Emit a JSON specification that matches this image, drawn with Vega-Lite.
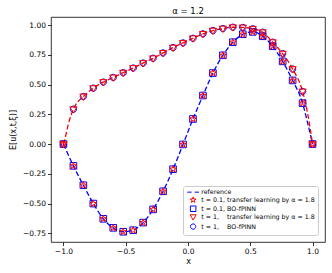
{
  "$schema": "https://vega.github.io/schema/vega-lite/v6.json",
  "width": 274,
  "height": 225,
  "autosize": {"type": "none"},
  "padding": {"left": 51, "top": 17, "right": 7, "bottom": 31},
  "title": {"text": "α = 1.2", "fontSize": 8.5, "font": "DejaVu Sans", "fontWeight": "normal", "offset": 2, "color": "black"},
  "config": {
    "view": {"stroke": "black", "strokeWidth": 0.8},
    "axis": {
      "domain": false, "grid": false, "tickColor": "black", "tickSize": 3.5, "tickWidth": 0.8,
      "labelColor": "black", "labelFont": "DejaVu Sans", "labelFontSize": 7.5, "labelPadding": 2,
      "titleColor": "black", "titleFont": "DejaVu Sans", "titleFontSize": 8, "titleFontWeight": "normal"
    },
    "legend": {
      "orient": "none", "legendX": 132, "legendY": 169,
      "strokeColor": "#cccccc", "fillColor": "white", "padding": 3, "cornerRadius": 2,
      "labelFont": "DejaVu Sans", "labelFontSize": 6.3, "labelColor": "black",
      "symbolSize": 25, "rowPadding": -1.2, "symbolStrokeWidth": 1, "symbolOffset": 4, "labelOffset": 5
    }
  },
  "encoding": {
    "x": {"field": "x", "type": "quantitative", "scale": {"domain": [-1.1, 1.1], "nice": false, "zero": false}, "axis": {"values": [-1, -0.5, 0, 0.5, 1], "format": ".1f", "title": "x", "titlePadding": 2}},
    "y": {"field": "y", "type": "quantitative", "scale": {"domain": [-0.823, 1.068], "nice": false, "zero": false}, "axis": {"values": [-0.75, -0.5, -0.25, 0, 0.25, 0.5, 0.75, 1], "format": ".2f", "title": "E[u(x,t,ξ)]", "titlePadding": 5, "labelOverlap": false}}
  },
  "layer": [
    {
      "data": {"values": [
        {"x": -1.0, "y": 0, "c": "u"}, {"x": -0.98, "y": 0.08, "c": "u"}, {"x": -0.96, "y": 0.17, "c": "u"},
        {"x": -0.92, "y": 0.293, "c": "u"}, {"x": -0.84, "y": 0.40, "c": "u"}, {"x": -0.76, "y": 0.470, "c": "u"},
        {"x": -0.68, "y": 0.521, "c": "u"}, {"x": -0.6, "y": 0.56, "c": "u"}, {"x": -0.52, "y": 0.60, "c": "u"},
        {"x": -0.44, "y": 0.639, "c": "u"}, {"x": -0.36, "y": 0.681, "c": "u"}, {"x": -0.28, "y": 0.721, "c": "u"},
        {"x": -0.2, "y": 0.766, "c": "u"}, {"x": -0.12, "y": 0.811, "c": "u"}, {"x": -0.04, "y": 0.850, "c": "u"},
        {"x": 0.04, "y": 0.889, "c": "u"}, {"x": 0.12, "y": 0.926, "c": "u"}, {"x": 0.2, "y": 0.954, "c": "u"},
        {"x": 0.28, "y": 0.971, "c": "u"}, {"x": 0.36, "y": 0.982, "c": "u"}, {"x": 0.44, "y": 0.98, "c": "u"},
        {"x": 0.52, "y": 0.969, "c": "u"}, {"x": 0.6, "y": 0.94, "c": "u"}, {"x": 0.68, "y": 0.856, "c": "u"},
        {"x": 0.76, "y": 0.76, "c": "u"}, {"x": 0.84, "y": 0.631, "c": "u"}, {"x": 0.92, "y": 0.442, "c": "u"},
        {"x": 0.96, "y": 0.26, "c": "u"}, {"x": 1.0, "y": 0, "c": "u"},
        {"x": -1.0, "y": 0, "c": "l"}, {"x": -0.92, "y": -0.183, "c": "l"}, {"x": -0.84, "y": -0.346, "c": "l"},
        {"x": -0.76, "y": -0.50, "c": "l"}, {"x": -0.68, "y": -0.628, "c": "l"}, {"x": -0.6, "y": -0.704, "c": "l"},
        {"x": -0.52, "y": -0.737, "c": "l"}, {"x": -0.44, "y": -0.724, "c": "l"}, {"x": -0.36, "y": -0.66, "c": "l"},
        {"x": -0.28, "y": -0.549, "c": "l"}, {"x": -0.2, "y": -0.397, "c": "l"}, {"x": -0.12, "y": -0.211, "c": "l"},
        {"x": -0.04, "y": -0.003, "c": "l"}, {"x": 0.04, "y": 0.211, "c": "l"}, {"x": 0.12, "y": 0.408, "c": "l"},
        {"x": 0.2, "y": 0.597, "c": "l"}, {"x": 0.28, "y": 0.746, "c": "l"}, {"x": 0.36, "y": 0.856, "c": "l"},
        {"x": 0.44, "y": 0.923, "c": "l"}, {"x": 0.52, "y": 0.943, "c": "l"}, {"x": 0.6, "y": 0.906, "c": "l"},
        {"x": 0.68, "y": 0.822, "c": "l"}, {"x": 0.76, "y": 0.695, "c": "l"}, {"x": 0.84, "y": 0.535, "c": "l"},
        {"x": 0.92, "y": 0.344, "c": "l"}, {"x": 0.96, "y": 0.18, "c": "l"}, {"x": 1.0, "y": 0, "c": "l"}
      ]},
      "layer": [
        {
          "transform": [{"filter": "datum.c === 'l'"}],
          "mark": {"type": "line", "color": "#0000ff", "strokeDash": [5, 2.5], "strokeWidth": 1.3, "interpolate": "monotone"}
        },
        {
          "transform": [{"filter": "datum.c === 'u'"}],
          "mark": {"type": "line", "color": "#ff0000", "strokeDash": [5, 2.5], "strokeWidth": 1.3, "interpolate": "monotone"}
        }
      ]
    },
    {
      "data": {"values": [
        {"x": -1.0, "a": 0, "b": 0, "c": 0, "d": 0},
        {"x": -0.92, "a": -0.183, "b": -0.183, "c": 0.293, "d": 0.293},
        {"x": -0.84, "a": -0.346, "b": -0.346, "c": 0.40, "d": 0.40},
        {"x": -0.76, "a": -0.50, "b": -0.50, "c": 0.470, "d": 0.470},
        {"x": -0.68, "a": -0.628, "b": -0.628, "c": 0.521, "d": 0.521},
        {"x": -0.6, "a": -0.704, "b": -0.704, "c": 0.56, "d": 0.56},
        {"x": -0.52, "a": -0.737, "b": -0.737, "c": 0.60, "d": 0.60},
        {"x": -0.44, "a": -0.724, "b": -0.724, "c": 0.639, "d": 0.639},
        {"x": -0.36, "a": -0.66, "b": -0.66, "c": 0.681, "d": 0.681},
        {"x": -0.28, "a": -0.549, "b": -0.549, "c": 0.721, "d": 0.721},
        {"x": -0.2, "a": -0.397, "b": -0.397, "c": 0.766, "d": 0.766},
        {"x": -0.12, "a": -0.211, "b": -0.211, "c": 0.811, "d": 0.811},
        {"x": -0.04, "a": -0.003, "b": -0.003, "c": 0.850, "d": 0.850},
        {"x": 0.04, "a": 0.211, "b": 0.211, "c": 0.889, "d": 0.889},
        {"x": 0.12, "a": 0.408, "b": 0.408, "c": 0.926, "d": 0.926},
        {"x": 0.2, "a": 0.597, "b": 0.597, "c": 0.954, "d": 0.954},
        {"x": 0.28, "a": 0.746, "b": 0.746, "c": 0.971, "d": 0.971},
        {"x": 0.36, "a": 0.856, "b": 0.856, "c": 0.982, "d": 0.982},
        {"x": 0.44, "a": 0.923, "b": 0.923, "c": 0.98, "d": 0.98},
        {"x": 0.52, "a": 0.943, "b": 0.943, "c": 0.969, "d": 0.969},
        {"x": 0.6, "a": 0.906, "b": 0.906, "c": 0.94, "d": 0.94},
        {"x": 0.68, "a": 0.822, "b": 0.822, "c": 0.856, "d": 0.856},
        {"x": 0.76, "a": 0.695, "b": 0.695, "c": 0.76, "d": 0.76},
        {"x": 0.84, "a": 0.535, "b": 0.535, "c": 0.631, "d": 0.631},
        {"x": 0.92, "a": 0.344, "b": 0.344, "c": 0.442, "d": 0.442},
        {"x": 1.0, "a": 0, "b": 0, "c": 0, "d": 0}
      ]},
      "transform": [
        {"fold": ["b", "d", "a", "c"], "as": ["s", "y"]}
      ],
      "mark": {"type": "point", "filled": false, "strokeWidth": 1, "size": 36, "opacity": 1},
      "encoding": {
        "shape": {
          "field": "s", "type": "nominal",
          "scale": {
            "domain": ["r", "a", "b", "c", "d"],
            "range": [
              "M-2.33,0H-0.6M0.6,0H2.33",
              "M0,-1.2L0.27,-0.371L1.141,-0.371L0.436,0.142L0.706,0.971L0,0.458L-0.706,0.971L-0.436,0.142L-1.141,-0.371L-0.27,-0.371Z",
              "M-1.1,-1.1H1.1V1.1H-1.1Z",
              "M-1.2,-0.8H1.2L0,1.3Z",
              "M1.05,0A1.05,1.05,0,1,1,-1.05,0A1.05,1.05,0,1,1,1.05,0Z"
            ]
          },
          "legend": {
            "title": null,
            "labelExpr": "datum.value === 'r' ? 'reference' : datum.value === 'a' ? 't = 0.1, transfer learning by α = 1.8' : datum.value === 'b' ? 't = 0.1, BO-fPINN' : datum.value === 'c' ? 't = 1,\u00a0\u00a0\u00a0 transfer learning by α = 1.8' : 't = 1,\u00a0\u00a0\u00a0 BO-fPINN'"
          }
        },
        "color": {
          "field": "s", "type": "nominal",
          "scale": {"domain": ["r", "a", "b", "c", "d"], "range": ["#0000ff", "#ff0000", "#0000ff", "#ff0000", "#0000ff"]},
          "legend": {"title": null}
        }
      }
    }
  ]
}
